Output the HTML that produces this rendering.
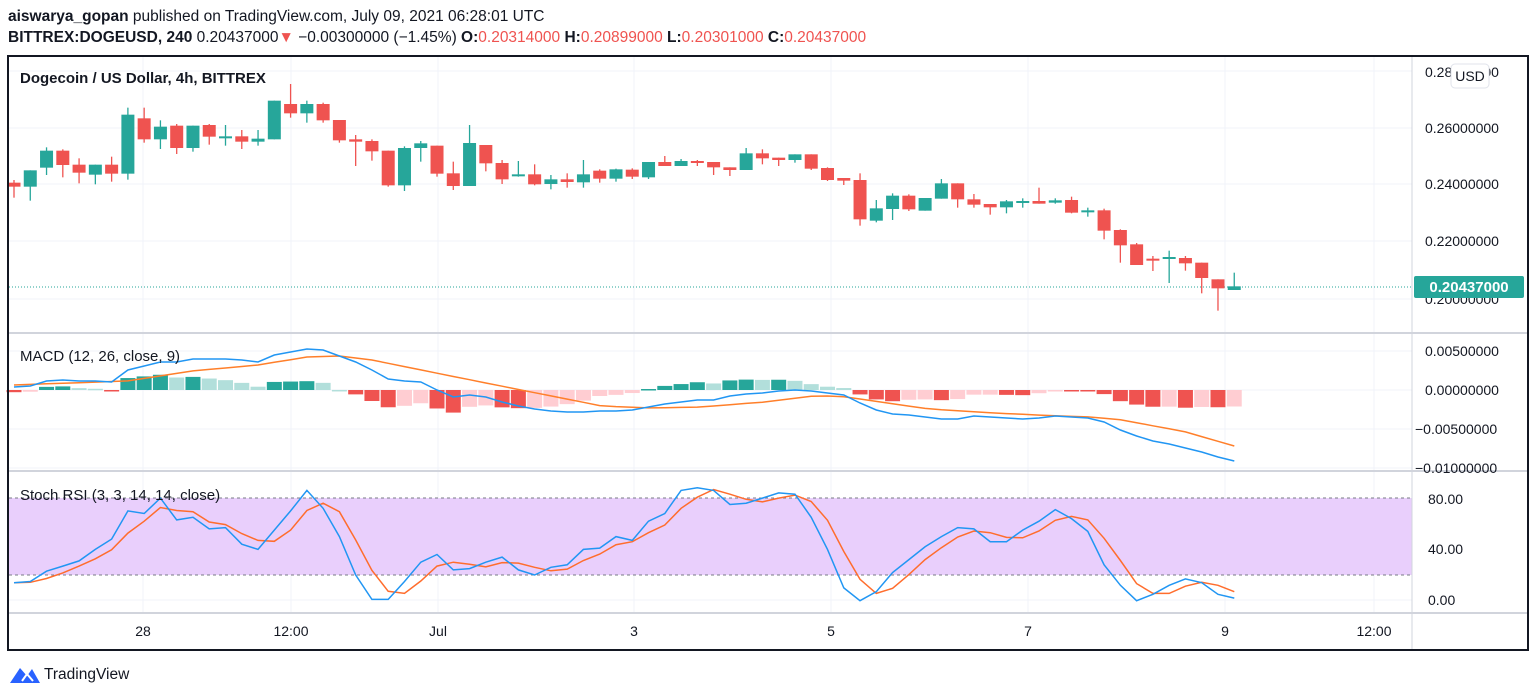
<!DOCTYPE html>
<html><head><meta charset="utf-8"><style>
html,body{margin:0;padding:0;background:#fff;width:1536px;height:697px;overflow:hidden}
svg{display:block}
text{font-family:"Liberation Sans",sans-serif}
</style></head><body>
<svg id="s" width="1536" height="697" xmlns="http://www.w3.org/2000/svg">
<rect width="1536" height="697" fill="#fff"/>
<text x="8" y="21" font-size="15.5" fill="#131722"><tspan font-weight="bold">aiswarya_gopan</tspan> published on TradingView.com, July 09, 2021 06:28:01 UTC</text>
<text x="8" y="42" font-size="15.5" fill="#131722"><tspan font-weight="bold">BITTREX:DOGEUSD, 240</tspan> 0.20437000<tspan fill="#ef5350">▼</tspan> −0.00300000 (−1.45%) <tspan font-weight="bold">O:</tspan><tspan fill="#ef5350">0.20314000</tspan> <tspan font-weight="bold">H:</tspan><tspan fill="#ef5350">0.20899000</tspan> <tspan font-weight="bold">L:</tspan><tspan fill="#ef5350">0.20301000</tspan> <tspan font-weight="bold">C:</tspan><tspan fill="#ef5350">0.20437000</tspan></text>
<g id="grid"></g>
<rect x="9" y="498" width="1403" height="77" fill="#e9cffc"/>
<line x1="9" y1="498" x2="1412" y2="498" stroke="#787b86" stroke-dasharray="3,3"/>
<line x1="9" y1="575" x2="1412" y2="575" stroke="#787b86" stroke-dasharray="3,3"/>
<line x1="9" y1="287" x2="1412" y2="287" stroke="#26a69a" stroke-dasharray="1,2"/>
<g id="plot"></g>
<line x1="1412" y1="56" x2="1412" y2="650" stroke="#d1d4dc"/>
<line x1="9" y1="333" x2="1527" y2="333" stroke="#d1d4dc" stroke-width="2"/>
<line x1="9" y1="471" x2="1527" y2="471" stroke="#d1d4dc" stroke-width="2"/>
<line x1="9" y1="613" x2="1527" y2="613" stroke="#d1d4dc" stroke-width="2"/>
<rect x="8" y="56" width="1520" height="594" fill="none" stroke="#131722" stroke-width="2"/>
<text x="20" y="83" font-size="15" font-weight="bold" fill="#131722">Dogecoin / US Dollar, 4h, BITTREX</text>
<text x="20" y="361" font-size="15" fill="#131722">MACD (12, 26, close, 9)</text>
<text x="20" y="500" font-size="15" fill="#131722">Stoch RSI (3, 3, 14, 14, close)</text>
<g font-size="14" fill="#131722">
<text x="1425" y="77">0.28000000</text>
<text x="1425" y="133">0.26000000</text>
<text x="1425" y="189">0.24000000</text>
<text x="1425" y="246">0.22000000</text>
<text x="1425" y="304">0.20000000</text>
<text x="1425" y="356">0.00500000</text>
<text x="1425" y="395">0.00000000</text>
<text x="1415" y="434">−0.00500000</text>
<text x="1415" y="473">−0.01000000</text>
<text x="1428" y="504">80.00</text>
<text x="1428" y="554">40.00</text>
<text x="1428" y="605">0.00</text>
<text x="143" y="636" text-anchor="middle">28</text>
<text x="291" y="636" text-anchor="middle">12:00</text>
<text x="438" y="636" text-anchor="middle">Jul</text>
<text x="634" y="636" text-anchor="middle">3</text>
<text x="831" y="636" text-anchor="middle">5</text>
<text x="1028" y="636" text-anchor="middle">7</text>
<text x="1225" y="636" text-anchor="middle">9</text>
<text x="1374" y="636" text-anchor="middle">12:00</text>
</g>
<rect x="1451" y="64" width="38" height="24" rx="4" fill="#fff" stroke="#e0e3eb"/>
<text x="1470" y="81" font-size="14" text-anchor="middle" fill="#131722">USD</text>
<rect x="1414" y="276" width="110" height="22" rx="2" fill="#26a69a"/>
<text x="1469" y="292" font-size="15" font-weight="bold" text-anchor="middle" fill="#fff">0.20437000</text>
<path d="M10 683 L20 668 L27 676 L32 669 L40 683 Z" fill="#2962ff"/>
<path d="M22 681 L27 674 L33 681" fill="none" stroke="#fff" stroke-width="2"/>
<text x="44" y="679" font-size="15.5" fill="#131722">TradingView</text>
</svg>
<script>
var NS="http://www.w3.org/2000/svg";
function el(p,t,a){var e=document.createElementNS(NS,t);for(var k in a)e.setAttribute(k,a[k]);p.appendChild(e);return e;}
var grid=document.getElementById('grid'),plot=document.getElementById('plot');
[71,128,184,241,299,351,390,429,468,549,600].forEach(function(y){el(grid,'line',{x1:9,x2:1412,y1:y,y2:y,stroke:'#f0f3fa'});});
[143,291,438,634,831,1028,1225,1374].forEach(function(x){el(grid,'line',{x1:x,x2:x,y1:56,y2:613,stroke:'#f0f3fa'});});
var G='#26a69a',R='#ef5350';
var C=[
['r',368,380,360,413],['g',331,380,331,422],['g',272,323,262,345],['r',272,315,268,352],['r',314,338,295,370],['g',314,344,314,373],['r',314,341,290,365],['g',164,341,143,359],['r',175,238,143,248],['g',200,238,181,267],['r',197,264,192,282],['g',197,264,197,275],['r',195,230,192,254],['g',229,232,195,257],['r',229,245,210,267],['g',236,245,210,257],['g',122,238,122,238],['r',132,160,72,173],['g',132,160,122,188],['r',132,181,128,188],['r',180,241,180,248],['r',238,245,225,318],['r',243,274,238,302],['r',272,376,272,380],['g',264,376,259,393],['g',250,264,243,305],['r',257,341,257,350],['r',340,378,305,390],['g',249,378,195,378],['r',255,310,255,334],['r',309,358,300,372],
['g',343,348,303,350],['r',343,373,313,376],['g',358,372,345,388],['r',358,366,340,383],['g',343,367,300,383],['r',332,356,328,368],['g',328,356,326,365],['r',329,350,325,357],['g',306,352,306,357],['r',306,318,288,318],['g',303,318,297,318],['r',303,307,300,318],['r',306,322,306,345],['r',322,330,322,348],['g',280,330,264,330],['r',280,295,268,313],['r',293,300,293,318],['g',283,300,283,308],['r',283,326,283,330],['r',324,360,322,363],['r',354,362,354,375],['r',360,478,340,497],['g',445,482,420,487],['g',407,447,400,480],['r',407,448,403,453],['g',414,452,414,452],['g',370,416,357,416],['r',370,418,370,443],['r',418,434,402,443],['r',432,442,432,464],['g',424,442,420,460],
['g',423,427,415,443],['r',423,431,383,431],['g',421,428,415,431],['r',420,458,410,460],['g',451,456,443,470],['r',451,512,446,538],['r',510,556,508,608],['r',553,615,549,615],['r',596,599,588,633],['g',591,596,572,669],['r',594,610,588,632],['r',608,654,608,700],['r',658,685,658,752],['g',679,690,638,690]];
function X(i){return 14+i*16.27;}
C.forEach(function(c,i){var x=X(i),col=c[0]=='g'?G:R,f=function(z){return 60+z/3;};
el(plot,'line',{x1:x,x2:x,y1:f(c[3]),y2:f(c[4]),stroke:col,'stroke-width':1.3});
var t=f(c[1]),b=f(c[2]);if(b-t<2)b=t+2;
el(plot,'rect',{x:x-6.5,y:t,width:13,height:b-t,fill:col});});
var M=[387,386,381,380,381,381,382,370,366,362,362,359,359,359,360,362,355,352,349,350,356,362,370,379,381,382,390,397,395,397,402,406,409,411,412,412,411,411,410,407,404,402,400,400,396,394,393,391,390,391,393,395,403,410,414,415,417,419,419,416,417,418,419,418,416,417,418,422,430,436,441,444,448,452,457,461];
var SK=[[14,385],[127,381],[192,371],[258,365],[307,357],[339,356],[372,360],[421,370],[486,383],[536,393],[602,406],[651,408],[700,407],[765,402],[814,396],[831,396],[847,397],[880,402],[929,409],[994,413],[1059,416],[1091,417],[1122,420],[1154,426],[1186,432],[1234,446]];
function interp(x){for(var j=0;j<SK.length-1;j++){if(x<=SK[j+1][0]){var a=SK[j],b=SK[j+1];return a[1]+(b[1]-a[1])*(x-a[0])/(b[0]-a[0]);}}return SK[SK.length-1][1];}
var S=M.map(function(_,i){return interp(X(i));});
var prev=0;
M.forEach(function(m,i){var h=(S[i]-m)*1.1,x=X(i),col;
if(h>=0)col=h>=prev?G:'#b2dfdb';else col=h<=prev?R:'#ffcdd2';prev=h;
var y=h>=0?390-h:390,hh=Math.max(Math.abs(h),1.5);
el(plot,'rect',{x:x-7.5,y:y,width:15,height:hh,fill:col});});
function pl(arr,col,fy){var p=arr.map(function(v,i){return X(i).toFixed(1)+','+fy(v).toFixed(1);}).join(' ');el(plot,'polyline',{points:p,fill:'none',stroke:col,'stroke-width':1.5});}
pl(S,'#ff7f2a',function(v){return v;});
pl(M,'#2196f3',function(v){return v;});
var K=[14,15,23,27,31,40,48,70,68,80,63,65,56,57,44,40,55,70,86,72,50,20,1,1,15,30,36,24,25,30,34,24,20,26,28,40,41,50,47,62,68,86,88,86,75,76,80,84,83,65,40,10,0,7,22,32,42,50,57,56,46,46,55,62,71,64,54,28,12,0,5,12,17,14,5,2];
var D=K.map(function(v,i){var a=K[Math.max(0,i-1)],b=K[Math.max(0,i-2)];return (v+a+b)/3;});
var fs=function(v){return 600.7-v*1.283;};
pl(D,'#ff6d2d',fs);pl(K,'#2196f3',fs);
</script>
</body></html>
